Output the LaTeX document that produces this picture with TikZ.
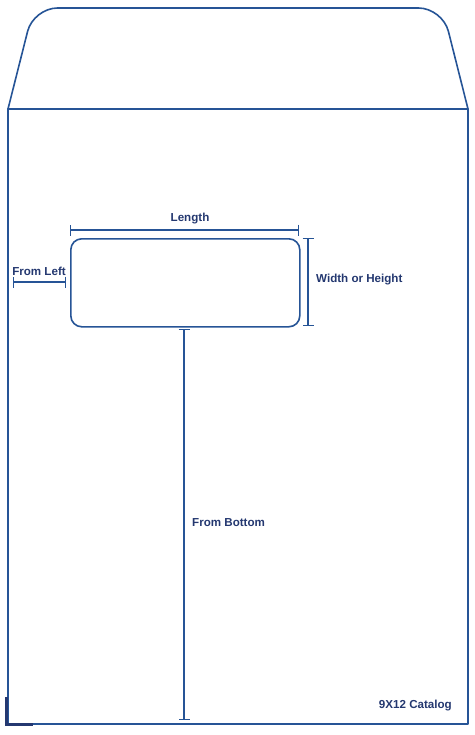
\documentclass[tikz,border=0pt]{standalone}
\usepackage{fontspec}
\setmainfont{Liberation Sans}
\usetikzlibrary{arrows.meta, positioning, calc}
\definecolor{envblue}{RGB}{38,84,150}
\definecolor{labelnavy}{RGB}{36,56,112}
\tikzset{
    envline/.style={envblue, line width=1.6pt, line join=round},
    dimline/.style={envblue, line width=1.4pt, {Bar[width=11pt]}-{Bar[width=11pt]}},
    dimlabel/.style={labelnavy, font=\bfseries\fontsize{11.6}{13}\selectfont, inner sep=0pt}
}
\begin{document}
\begin{tikzpicture}[x=1pt, y=-1pt]
    \useasboundingbox (0,0) rectangle (474,735);

    % Flap
    \draw[envline] (8,109) {[rounded corners=24pt] -- (33.5,8) -- (442.5,8)} -- (468,109);

    % Envelope body
    \draw[envline] (8,109) rectangle (468,724);

    % Corner mark
    \draw[labelnavy, line width=3pt] (6,697) -- (6,724) -- (33,724);

    % Window
    \node[draw=envblue, line width=1.6pt, rounded corners=11pt, minimum width=229pt,
          minimum height=88pt, anchor=north west, inner sep=0pt] (window) at (70,238) {};

    % Length
    \coordinate (lenA) at (70,230);
    \coordinate (lenB) at (299,230);
    \draw[dimline] (lenA) -- (lenB);
    \node[dimlabel] (lenlabel) at (190,219) {Length};

    % Width or Height
    \coordinate (widA) at (308,238);
    \coordinate (widB) at (308,326);
    \draw[dimline] (widA) -- (widB);
    \node[dimlabel, anchor=west] (widlabel) at (316,280) {Width or Height};

    % From Left
    \coordinate (leftA) at (13,282);
    \coordinate (leftB) at (66,282);
    \draw[dimline] (leftA) -- (leftB);
    \node[dimlabel] (leftlabel) at (39,271) {From Left};

    % From Bottom
    \coordinate (botA) at (184,329);
    \coordinate (botB) at (184,720);
    \draw[dimline] (botA) -- (botB);
    \node[dimlabel, anchor=west] (botlabel) at (192,523) {From Bottom};

    % Size tag
    \node[dimlabel, anchor=east] (sizetag) at (452,706) {9X12 Catalog};
\end{tikzpicture}
\end{document}
